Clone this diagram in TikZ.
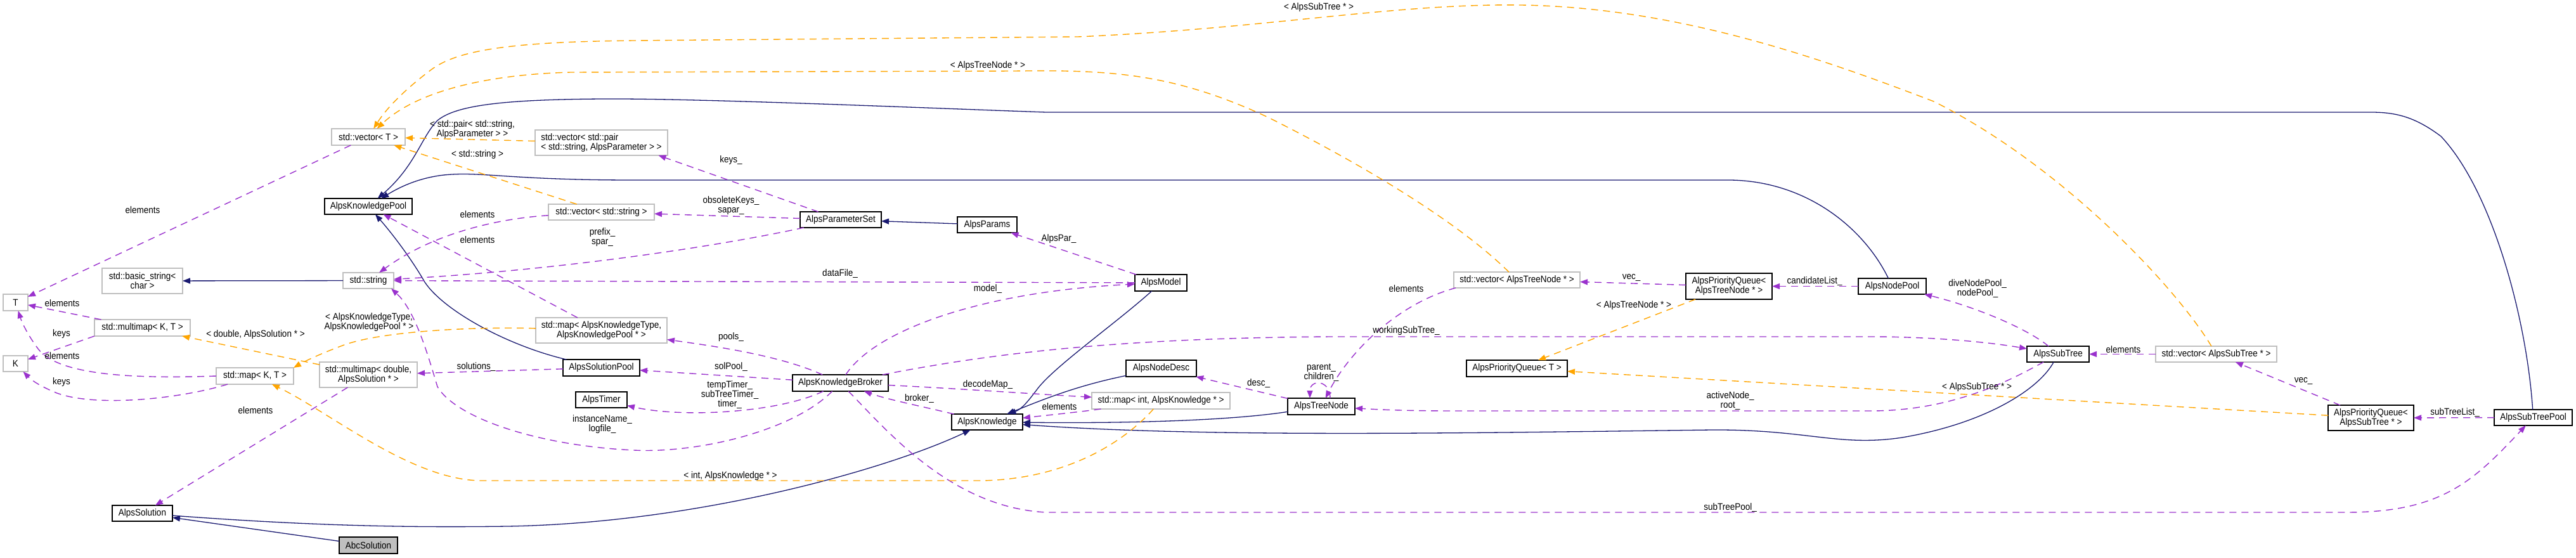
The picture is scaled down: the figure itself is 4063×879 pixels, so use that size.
\documentclass[tikz,border=0pt]{standalone}
\usepackage{fontspec}
\setmainfont{Liberation Sans}[FakeStretch=0.9]
\usetikzlibrary{arrows.meta}
\definecolor{inhc}{HTML}{191970}
\definecolor{usec}{HTML}{9A32CD}
\definecolor{tplc}{HTML}{FFA500}
\definecolor{extc}{HTML}{BFBFBF}
\definecolor{abcf}{HTML}{BFBFBF}
\begin{document}
\begin{tikzpicture}[x=1pt,y=-1pt,
  every node/.style={font=\fontsize{15}{15}\selectfont, inner sep=0pt, outer sep=0pt},
  sz/.style 2 args={minimum width=#1pt, minimum height=#2pt},
  ext/.style={draw=extc, line width=1.4pt, fill=white, align=center},
  cls/.style={draw=black, line width=1.6pt, fill=white, align=center},
  abc/.style={draw=black, line width=1.6pt, fill=abcf, align=center},
  lbl/.style={align=center},
  inh/.style={draw=inhc, line width=1.3pt, -{Triangle[length=12pt,width=9pt]}},
  use/.style={draw=usec, line width=1.4pt, dash pattern=on 11pt off 8pt, -{Triangle[length=12pt,width=9pt]}},
  tpl/.style={draw=tplc, line width=1.4pt, dash pattern=on 11pt off 8pt, -{Triangle[length=12pt,width=9pt]}}
]
\useasboundingbox (0,0) rectangle (4063,879);

% external / undocumented classes
\node[ext,sz={116}{26}] (vecT) at (581,216) {std::vector< T >};
\node[ext,sz={127}{40}] (bstr) at (224.5,443) {std::basic\_string<\\char >};
\node[ext,sz={80}{25}] (str) at (581,442.5) {std::string};
\node[ext,sz={39}{26}] (T) at (24.5,477) {T};
\node[ext,sz={39}{25}] (K) at (24.5,573.5) {K};
\node[ext,sz={151}{26}] (mmKT) at (224.5,517) {std::multimap< K, T >};
\node[ext,sz={122}{26}] (mapKT) at (402,593) {std::map< K, T >};
\node[ext,sz={154}{40}] (mmDbl) at (581,591) {std::multimap< double,\\AlpsSolution * >};
\node[ext,sz={209}{40},align=left] (vecPair) at (948.5,225) {std::vector< std::pair\\< std::string, AlpsParameter > >};
\node[ext,sz={167}{25}] (vecStr) at (948.5,334.5) {std::vector< std::string >};
\node[ext,sz={207}{40}] (mapKP) at (948.5,521) {std::map< AlpsKnowledgeType,\\AlpsKnowledgePool * >};
\node[ext,sz={218}{26}] (mapInt) at (1831,632) {std::map< int, AlpsKnowledge * >};
\node[ext,sz={199}{25}] (vecTN) at (2392.5,441.5) {std::vector< AlpsTreeNode * >};
\node[ext,sz={191}{25}] (vecST) at (3495.5,558.5) {std::vector< AlpsSubTree * >};

% documented classes
\node[cls,sz={138}{25}] (KPool) at (581,325.5) {AlpsKnowledgePool};
\node[cls,sz={128}{25}] (PSet) at (1326,346.5) {AlpsParameterSet};
\node[cls,sz={94}{25}] (Params) at (1557,354.5) {AlpsParams};
\node[cls,sz={82}{26}] (Model) at (1831,446) {AlpsModel};
\node[cls,sz={121}{26}] (SolPool) at (948.5,580) {AlpsSolutionPool};
\node[cls,sz={81}{25}] (Timer) at (948.5,630.5) {AlpsTimer};
\node[cls,sz={151}{26}] (Broker) at (1325.5,604) {AlpsKnowledgeBroker};
\node[cls,sz={112}{25}] (Know) at (1557,665.5) {AlpsKnowledge};
\node[cls,sz={111}{26}] (NodeDesc) at (1831.5,581) {AlpsNodeDesc};
\node[cls,sz={106}{26}] (TreeNode) at (2084,641) {AlpsTreeNode};
\node[cls,sz={159}{26}] (PQT) at (2392.5,581) {AlpsPriorityQueue< T >};
\node[cls,sz={136}{41}] (PQTN) at (2727,451.5) {AlpsPriorityQueue<\\AlpsTreeNode * >};
\node[cls,sz={107}{25}] (NodePool) at (2984.5,451.5) {AlpsNodePool};
\node[cls,sz={98}{25}] (SubTree) at (3246,558.5) {AlpsSubTree};
\node[cls,sz={135}{40}] (PQST) at (3739.5,659) {AlpsPriorityQueue<\\AlpsSubTree * >};
\node[cls,sz={123}{25}] (STPool) at (3995.5,658.5) {AlpsSubTreePool};
\node[cls,sz={95}{25}] (Sol) at (224.5,809.5) {AlpsSolution};
\node[abc,sz={92}{26}] (Abc) at (581,860) {AbcSolution};

% inheritance
\draw[inh] (Sol) .. controls (500,830) and (650,832) .. (800,830) .. controls (1100,825) and (1400,740) .. (Know);
\draw[inh] (Abc) -- (Sol);
\draw[inh] (SolPool) .. controls (800,545) and (700,490) .. (670,445) .. controls (650,410) and (620,370) .. (KPool);
\draw[inh] (NodePool) .. controls (2940,360) and (2850,286) .. (2730,284) -- (1000,284) .. controls (800,284) and (760,270) .. (700,276) .. controls (665,280) and (635,292) .. (KPool);
\draw[inh] (STPool) .. controls (3985,500) and (3930,300) .. (3850,215) .. controls (3810,185) and (3780,177) .. (3740,177) -- (1650,177) .. controls (1450,170) and (1100,155) .. (950,156) .. controls (800,157) and (720,165) .. (690,190) .. controls (665,215) and (655,262) .. (KPool);
\draw[inh] (str) -- (bstr);
\draw[inh] (Params) -- (PSet);
\draw[inh] (Model) .. controls (1760,510) and (1660,580) .. (1635,615) .. controls (1622,632) and (1612,645) .. (Know);
\draw[inh] (NodeDesc) .. controls (1700,608) and (1650,628) .. (Know);
\draw[inh] (TreeNode) .. controls (1950,662) and (1800,668) .. (Know);
\draw[inh] (SubTree) .. controls (3215,615) and (3130,668) .. (3000,690) .. controls (2900,705) and (2850,677) .. (2700,678) .. controls (2300,683) and (1900,690) .. (Know);

% usage
\draw[use] (Know) .. controls (1450,640) and (1400,630) .. (Broker);
\draw[use] (vecT) -- (T);
\draw[use] (mmKT) -- (T);
\draw[use] (mmKT.south west) -- (K);
\draw[use] (mapKT.west) .. controls (200,598) and (90,590) .. (60,550) .. controls (45,530) and (35,510) .. (T);
\draw[use] ([xshift=-43pt]mapKT.south) .. controls (280,630) and (150,642) .. (90,620) .. controls (65,610) and (50,600) .. (K);
\draw[use] (vecStr) .. controls (780,345) and (680,370) .. (str);
\draw[use] (PSet) -- ([xshift=90pt]vecPair.south);
\draw[use] (PSet) -- (vecStr);
\draw[use] (PSet) .. controls (1100,395) and (850,428) .. (str);
\draw[use] (mapKP) -- (KPool);
\draw[use] (mmDbl) -- (Sol);
\draw[use] (SolPool) -- (mmDbl);
\draw[use] (Broker) .. controls (1230,560) and (1120,545) .. (mapKP);
\draw[use] (Broker) -- (SolPool);
\draw[use] (Broker) .. controls (1230,650) and (1080,660) .. (Timer);
\draw[use] (Broker) .. controls (1250,680) and (1100,715) .. (1000,710) .. controls (850,703) and (720,660) .. (690,610) .. controls (675,560) and (655,490) .. ([xshift=-4pt]str.south east);
\draw[use] (Model) -- (str);
\draw[use] (Broker) .. controls (1380,520) and (1550,460) .. (Model);
\draw[use] (Model) -- (Params);
\draw[use] (Broker) .. controls (1500,612) and (1640,622) .. (mapInt);
\draw[use] (mapInt) .. controls (1700,650) and (1650,655) .. (Know);
\draw[use] (Broker) .. controls (1550,560) and (1750,533) .. (2100,531) -- (2950,531) .. controls (3050,531) and (3140,540) .. (SubTree);
\draw[use] (Broker) .. controls (1400,680) and (1500,800) .. (1650,808) -- (3700,808) .. controls (3850,808) and (3900,760) .. (STPool);
\draw[use] (TreeNode) -- (NodeDesc);
\draw[use] ([xshift=14pt]TreeNode.north) .. controls ([xshift=14pt,yshift=30pt]TreeNode.north) and ([xshift=-18pt,yshift=30pt]TreeNode.north) .. ([xshift=-18pt]TreeNode.north);
\draw[use] ([xshift=3pt]vecTN.south west) .. controls (2200,480) and (2125,560) .. (TreeNode);
\draw[use] (PQTN) -- (vecTN);
\draw[use] (NodePool) -- (PQTN);
\draw[use] (SubTree) .. controls (3200,520) and (3120,485) .. (NodePool);
\draw[use] (SubTree) .. controls (3170,600) and (3080,648) .. (2950,648) -- (2300,648) .. controls (2200,648) and (2160,645) .. (TreeNode);
\draw[use] (vecST) -- (SubTree);
\draw[use] (PQST) -- (vecST);
\draw[use] (STPool) -- (PQST);

% template instances
\draw[tpl] (vecPair) -- (vecT);
\draw[tpl] (vecStr) -- (vecT);
\draw[tpl] (vecTN) .. controls (2300,350) and (2150,260) .. (2000,185) .. controls (1850,115) and (1750,110) .. (1600,112) -- (900,114) .. controls (750,118) and (650,150) .. (vecT);
\draw[tpl] (vecST) .. controls (3430,450) and (3250,260) .. (3050,160) .. controls (2880,95) and (2650,12) .. (2400,8) .. controls (2200,5) and (2000,45) .. (1700,58) -- (1000,64) .. controls (800,66) and (720,80) .. (680,110) .. controls (640,140) and (610,170) .. (vecT);
\draw[tpl] (mapKP) .. controls (750,515) and (600,522) .. (540,545) .. controls (505,558) and (480,570) .. (mapKT.north east);
\draw[tpl] (mmDbl) -- (mmKT);
\draw[tpl] (mapInt) .. controls (1770,700) and (1680,755) .. (1550,758) -- (760,758) .. controls (650,758) and (520,650) .. (mapKT);
\draw[tpl] (PQTN) -- (PQT);
\draw[tpl] (PQST) -- (PQT);

% labels
\node[lbl] (l01) at (225,331) {elements};
\node[lbl] (l02) at (98,478) {elements};
\node[lbl] (l03) at (97,527) {keys};
\node[lbl] (l04) at (98,561) {elements};
\node[lbl] (l05) at (97,603) {keys};
\node[lbl] (l06) at (403,528) {< double, AlpsSolution * >};
\node[lbl] (l07) at (582,508) {< AlpsKnowledgeType,\\AlpsKnowledgePool * >};
\node[lbl] (l08) at (403,647) {elements};
\node[lbl] (l09) at (745,204) {< std::pair< std::string,\\AlpsParameter > >};
\node[lbl] (l10) at (753,244) {< std::string >};
\node[lbl] (l11) at (1153,253) {keys\_};
\node[lbl] (l12) at (1153,324.5) {obsoleteKeys\_\\sapar\_};
\node[lbl] (l13) at (753,338) {elements};
\node[lbl] (l14) at (950,374) {prefix\_\\spar\_};
\node[lbl] (l15) at (753,378) {elements};
\node[lbl] (l16) at (1325,432) {dataFile\_};
\node[lbl] (l17) at (1153,532) {pools\_};
\node[lbl] (l18) at (1153,579) {solPool\_};
\node[lbl] (l19) at (1151,622.5) {tempTimer\_\\subTreeTimer\_\\timer\_};
\node[lbl] (l20) at (950,669.5) {instanceName\_\\logfile\_};
\node[lbl] (l21) at (751,579) {solutions\_};
\node[lbl] (l22) at (1152,751) {< int, AlpsKnowledge * >};
\node[lbl] (l23) at (1670,377) {AlpsPar\_};
\node[lbl] (l24) at (1558,104) {< AlpsTreeNode * >};
\node[lbl] (l25) at (2080,12) {< AlpsSubTree * >};
\node[lbl] (l26) at (1558,456) {model\_};
\node[lbl] (l27) at (1558,607) {decodeMap\_};
\node[lbl] (l28) at (1450,629) {broker\_};
\node[lbl] (l29) at (1671,641) {elements};
\node[lbl] (l30) at (1985,605) {desc\_};
\node[lbl] (l31) at (2084,588) {parent\_\\children\_};
\node[lbl] (l32) at (2218,455) {elements};
\node[lbl] (l33) at (2573,438) {vec\_};
\node[lbl] (l34) at (2577,482) {< AlpsTreeNode * >};
\node[lbl] (l35) at (2218,522) {workingSubTree\_};
\node[lbl] (l36) at (2729,632) {activeNode\_\\root\_};
\node[lbl] (l37) at (2729,801) {subTreePool\_};
\node[lbl] (l38) at (2862,444) {candidateList\_};
\node[lbl] (l39) at (3119,455.5) {diveNodePool\_\\nodePool\_};
\node[lbl] (l40) at (3349,551) {elements};
\node[lbl] (l41) at (3118,611) {< AlpsSubTree * >};
\node[lbl] (l42) at (3633,601) {vec\_};
\node[lbl] (l43) at (3872,651) {subTreeList\_};
\end{tikzpicture}
\end{document}
